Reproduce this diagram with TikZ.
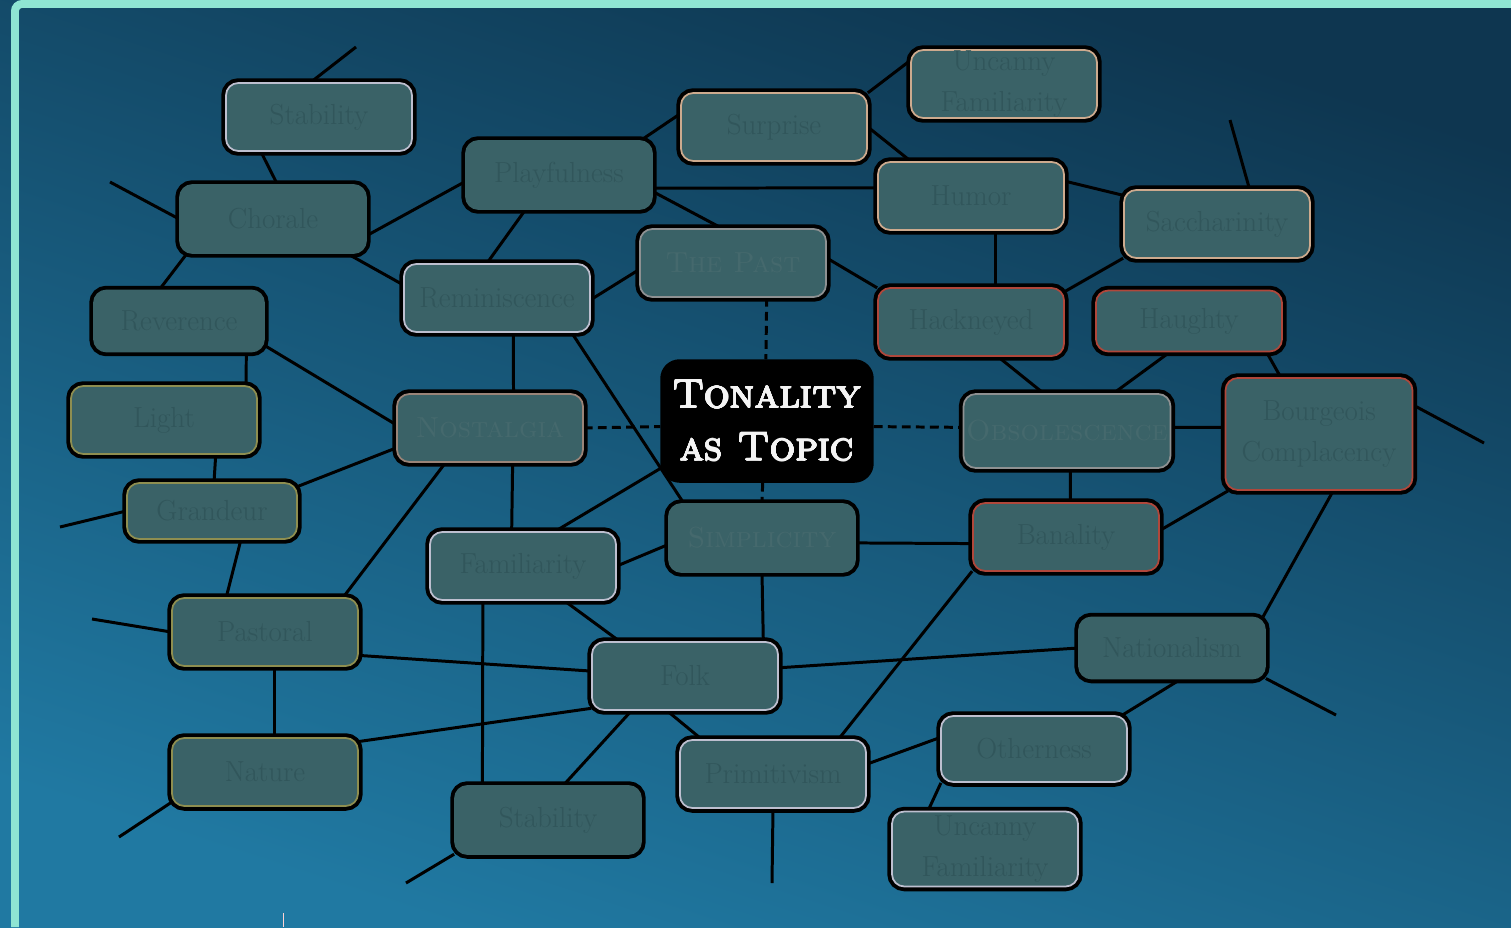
\documentclass[tikz,border=0pt]{standalone}
\usepackage{tikz}
\usepackage{contour}
\usetikzlibrary{backgrounds}
\contourlength{0.3pt}
\definecolor{bgtop}{HTML}{0E3650}
\definecolor{bgbot}{HTML}{2079A2}
\definecolor{marco}{HTML}{8FE5D3}
\definecolor{boxfill}{HTML}{3A6267}
\definecolor{boxtext}{HTML}{31565B}
\definecolor{sctext}{HTML}{45696D}
\definecolor{hubtext}{HTML}{F4F4F4}
\definecolor{hlwhite}{HTML}{BDBFCF}
\definecolor{hlpeach}{HTML}{CDAA8E}
\definecolor{hlred}{HTML}{B0473B}
\definecolor{hlgrey}{HTML}{8E9192}
\definecolor{hlolive}{HTML}{8E8E50}
\definecolor{hltan}{HTML}{9A8478}

\tikzset{
  topic/.style={rectangle, rounded corners=7pt, fill=boxfill, draw=#1, line width=1pt,
    preaction={draw=black, line width=5.4pt},
    minimum width=3.72cm, minimum height=1.36cm, inner sep=0pt, align=center,
    text=boxtext, font=\fontsize{16.5}{23}\selectfont},
  topic/.default=boxfill,
  sctopic/.style={topic=#1, text=sctext, font=\fontsize{16.5}{23}\selectfont\scshape},
  sctopic/.default=boxfill,
  hub/.style={rectangle, rounded corners=10pt, fill=black, draw=black, line width=2pt,
    minimum width=4.2cm, minimum height=2.4cm, align=center, text=hubtext,
    font=\fontsize{23}{30}\selectfont\scshape},
  link/.style={line width=1.7pt, black},
  dlink/.style={link, dash pattern=on 5pt off 3pt},
}

\begin{document}
\begin{tikzpicture}[x=0.02cm,y=-0.02cm]
  \useasboundingbox (0,0) rectangle (1511,927);

  \node[topic=hlwhite] (stabA) at (319,117) {Stability};
  \node[topic] (chorale) at (273,219) {Chorale};
  \node[topic, minimum width=3.4cm, minimum height=1.22cm] (reverence) at (179,321) {Reverence};
  \node[topic=hlolive] (light) at (164,420) {Light};
  \node[topic=hlolive, minimum width=3.4cm, minimum height=1.12cm] (grandeur) at (212,511) {Grandeur};
  \node[topic=hlolive] (pastoral) at (265,632) {Pastoral};
  \node[topic=hlolive] (nature) at (265,772) {Nature};
  \node[topic] (playful) at (559,175) {Playfulness};
  \node[topic=hlwhite] (remin) at (497,298) {Reminiscence};
  \node[sctopic=hltan] (nostalgia) at (490,428) {Nostalgia};
  \node[topic=hlwhite] (familiar) at (523,566) {Familiarity};
  \node[topic] (stabB) at (548,820) {Stability};
  \node[topic=hlpeach] (surprise) at (774,127) {Surprise};
  \node[sctopic=hlgrey] (past) at (733,263) {The Past};
  \node[hub] (tonality) at (767,421) {\contour{hubtext}{Tonality}\\\contour{hubtext}{as Topic}};
  \node[sctopic] (simplicity) at (762,538) {Simplicity};
  \node[topic=hlwhite] (folk) at (685,676) {Folk};
  \node[topic=hlwhite] (primitiv) at (773,774) {Primitivism};
  \node[topic=hlpeach] (uncannyA) at (1004,84) {Uncanny\\Familiarity};
  \node[topic=hlpeach] (humor) at (971,196) {Humor};
  \node[topic=hlred] (hackneyed) at (971,322) {Hackneyed};
  \node[topic=hlpeach] (saccha) at (1217,224) {Saccharinity};
  \node[topic=hlred, minimum height=1.22cm] (haughty) at (1189,321) {Haughty};
  \node[sctopic=hlgrey, minimum width=4.14cm, minimum height=1.48cm] (obsol) at (1067,431) {Obsolescence};
  \node[topic=hlred, minimum width=3.74cm, minimum height=2.24cm] (bourgeois) at (1319,434) {Bourgeois\\Complacency};
  \node[topic=hlred] (banality) at (1066,537) {Banality};
  \node[topic, minimum height=1.22cm] (national) at (1172,648) {Nationalism};
  \node[topic=hlwhite, minimum height=1.32cm] (otherness) at (1034,749) {Otherness};
  \node[topic=hlwhite, minimum height=1.5cm] (uncannyB) at (985,849) {Uncanny\\Familiarity};

  \coordinate (stabAend) at (356,47);
  \coordinate (choraleend) at (110,182);
  \coordinate (grandeurend) at (60,527);
  \coordinate (pastoralend) at (92,619);
  \coordinate (natureend) at (119,837);
  \coordinate (stabBend) at (406,883);
  \coordinate (sacchaend) at (1230,120);
  \coordinate (bourgeoisend) at (1484,443);
  \coordinate (nationalend) at (1336,715);
  \coordinate (primitivend) at (772,883);

  \begin{scope}[on background layer]
    \shade[top color=bgtop, bottom color=bgbot, shading angle=-18] (0,0) rectangle (1511,927);
    \draw[link] (stabA.103) -- (stabAend);
    \draw[link] (stabA.-149) -- (chorale.83);
    \draw[link] (chorale.west) -- (choraleend);
    \draw[link] (chorale.-10) -- (playful.184);
    \draw[link] (chorale.-25) -- (remin.172);
    \draw[link] (chorale.-158) -- (reverence.122);
    \draw[link] (reverence.-25) -- (light.23);
    \draw[link] (reverence.-16) -- (nostalgia.178);
    \draw[link] (light.-34) -- (grandeur.86);
    \draw[link] (grandeur.west) -- (grandeurend);
    \draw[link] (grandeur.16) -- (nostalgia.-168);
    \draw[link] (grandeur.-45) -- (pastoral.138);
    \draw[link] (pastoral.west) -- (pastoralend);
    \draw[link] (pastoral.24) -- (nostalgia.-142);
    \draw[link] (pastoral.-14) -- (folk.177);
    \draw[link] (pastoral.-75) -- (nature.75);
    \draw[link] (nature.-162) -- (natureend);
    \draw[link] (nature.18) -- (folk.-161);
    \draw[link] (playful.-134) -- (remin.106);
    \draw[link] (playful.23) -- (surprise.172);
    \draw[link] (playful.-8) -- (humor.175);
    \draw[link] (playful.-10) -- (past.108);
    \draw[link] (remin.-1) -- (past.184);
    \draw[link] (remin.-65) -- (nostalgia.56);
    \draw[link] (remin.-25) -- (simplicity.156);
    \draw[dlink] (nostalgia.east) -- (tonality.183);
    \draw[link] (nostalgia.-57) -- (familiar.108);
    \draw[link] (familiar.47) -- (tonality.-156);
    \draw[link] (familiar.east) -- (simplicity.184);
    \draw[link] (familiar.-40) -- (folk.152);
    \draw[link] (familiar.-139) -- (stabB.152);
    \draw[link] (stabB.-160) -- (stabBend);
    \draw[link] (stabB.66) -- (folk.-147);
    \draw[dlink] (past.-46) -- (tonality.91);
    \draw[link] (past.3) -- (hackneyed.160);
    \draw[link] (surprise.20) -- (uncannyA.166);
    \draw[link] (surprise.east) -- (humor.150);
    \draw[link] (humor.9) -- (saccha.163);
    \draw[link] (humor.-55) -- (hackneyed.55);
    \draw[link] (saccha.47) -- (sacchaend);
    \draw[link] (saccha.-160) -- (hackneyed.18);
    \draw[link] (hackneyed.-52) -- (obsol.122);
    \draw[link] (haughty.-122) -- (obsol.39);
    \draw[link] (haughty.-22) -- (bourgeois.124);
    \draw[dlink] (tonality.-3) -- (obsol.178);
    \draw[dlink] (tonality.-94) -- (simplicity.north);
    \draw[link] (obsol.2) -- (bourgeois.176);
    \draw[link] (obsol.-85) -- (banality.83);
    \draw[link] (bourgeois.17) -- (bourgeoisend);
    \draw[link] (bourgeois.-148) -- (banality.4);
    \draw[link] (bourgeois.-76) -- (national.19);
    \draw[link] (simplicity.-3) -- (banality.184);
    \draw[link] (simplicity.south) -- (folk.24);
    \draw[link] (banality.-160) -- (primitiv.28);
    \draw[link] (folk.5) -- (national.west);
    \draw[link] (folk.-117) -- (primitiv.154);
    \draw[link] (national.-75) -- (otherness.21);
    \draw[link] (national.-18) -- (nationalend);
    \draw[link] (primitiv.6) -- (otherness.173);
    \draw[link] (primitiv.south) -- (primitivend);
    \draw[link] (otherness.-160) -- (uncannyB.146);
  \end{scope}

  \draw[marco, line width=4.5pt, rounded corners=4pt] (15,927) -- (15,4) -- (1511,4);
  \draw[pink!70!white, line width=0.4pt] (283,913) -- (283,927);
\end{tikzpicture}
\end{document}
